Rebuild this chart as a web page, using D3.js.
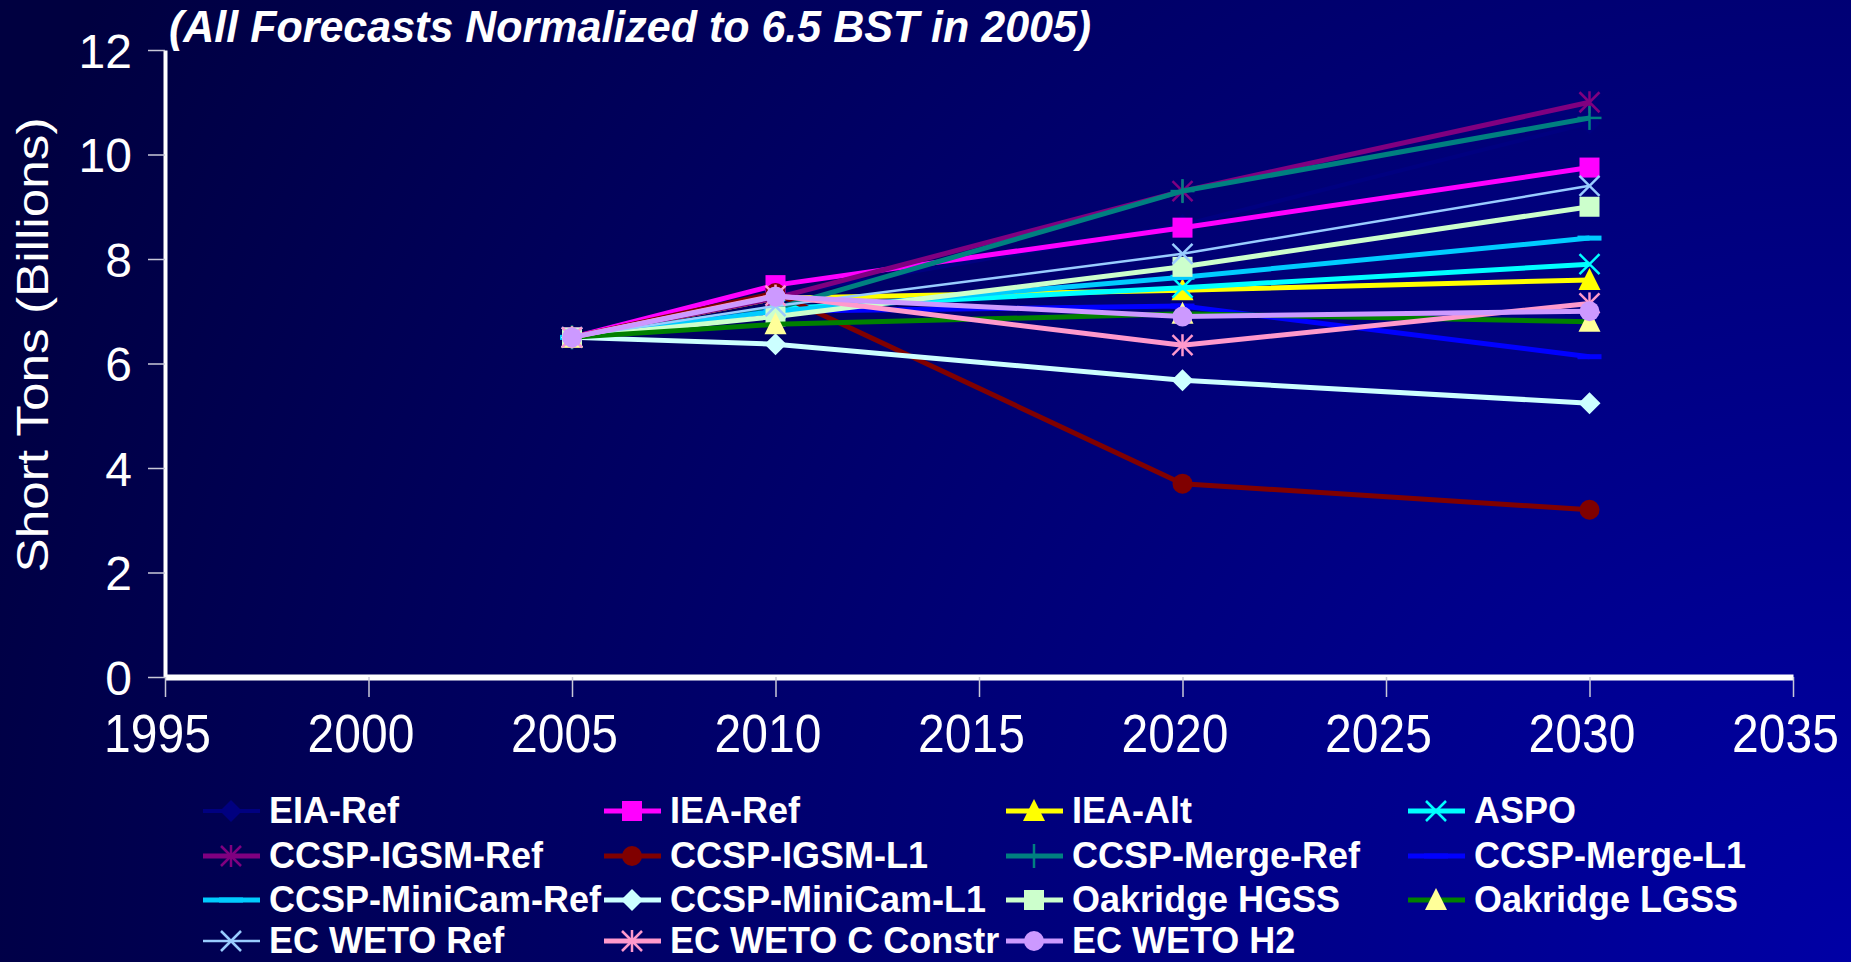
<!DOCTYPE html>
<meta charset="utf-8">
<style>
body { margin: 0; overflow: hidden; background: #000050; }
text { font-family: Arial, "Liberation Sans", sans-serif; fill: #fff; }
.axis .tick line { stroke: #c8c8d8; stroke-width: 1.5px; }
.axis text { font-size: 48px; }
.legend text { font-size: 36px; font-weight: bold; }
</style>
<div id="chart"></div>
<script src="https://cdnjs.cloudflare.com/ajax/libs/d3/7.8.5/d3.min.js"></script>
<script>

// years with a value, axis ticks
var years = [2005, 2010, 2020, 2030];
var xTicks = [1995, 2000, 2005, 2010, 2015, 2020, 2025, 2030, 2035];
var yTicks = [0, 2, 4, 6, 8, 10, 12];

var names = ["EIA-Ref", "IEA-Ref", "IEA-Alt", "ASPO",
             "CCSP-IGSM-Ref", "CCSP-IGSM-L1", "CCSP-Merge-Ref", "CCSP-Merge-L1",
             "CCSP-MiniCam-Ref", "CCSP-MiniCam-L1", "Oakridge HGSS", "Oakridge LGSS",
             "EC WETO Ref", "EC WETO C Constr", "EC WETO H2"];

// billions of short tons
var eiaRef        = [6.5, 7.3, 8.65, 10.6];
var ieaRef        = [6.5, 7.5, 8.6, 9.75];
var ieaAlt        = [6.5, 7.25, 7.4, 7.6];
var aspo          = [6.5, 7.05, 7.45, 7.9];
var igsmRef       = [6.5, 7.25, 9.3, 11.0];
var igsmL1        = [6.5, 7.35, 3.7, 3.2];
var mergeRef      = [6.5, 7.05, 9.3, 10.7];
var mergeL1       = [6.5, 7.0, 7.1, 6.13];
var miniCamRef    = [6.5, 7.0, 7.65, 8.4];
var miniCamL1     = [6.5, 6.37, 5.68, 5.24];
var oakHGSS       = [6.5, 6.9, 7.85, 9.0];
var oakLGSS       = [6.5, 6.75, 6.95, 6.8];
var wetoRef       = [6.5, 7.1, 8.1, 9.4];
var wetoCConstr   = [6.5, 7.3, 6.35, 7.15];
var wetoH2        = [6.5, 7.28, 6.9, 7.0];

var values = [eiaRef, ieaRef, ieaAlt, aspo, igsmRef, igsmL1, mergeRef, mergeL1,
              miniCamRef, miniCamL1, oakHGSS, oakLGSS, wetoRef, wetoCConstr, wetoH2];

// look of each series: line colour, marker, marker colour, line width
var styles = [
  {c: "#000080", m: "diamond",  mc: "#000080", w: 4},
  {c: "#ff00ff", m: "square",   mc: "#ff00ff", w: 5},
  {c: "#ffff00", m: "triangle", mc: "#ffff00", w: 5},
  {c: "#00ffff", m: "x",        mc: "#00ffff", w: 5},
  {c: "#800080", m: "star",     mc: "#800080", w: 5},
  {c: "#800000", m: "circle",   mc: "#800000", w: 5},
  {c: "#008080", m: "plus",     mc: "#008080", w: 5},
  {c: "#0000ff", m: "dash",     mc: "#0000ff", w: 5},
  {c: "#00ccff", m: "dash",     mc: "#00ccff", w: 5},
  {c: "#ccffff", m: "diamond",  mc: "#ccffff", w: 5},
  {c: "#ccffcc", m: "square",   mc: "#ccffcc", w: 5},
  {c: "#008000", m: "triangle", mc: "#ffff99", w: 5},
  {c: "#99ccff", m: "x",        mc: "#99ccff", w: 2.5},
  {c: "#ff99cc", m: "star",     mc: "#ff99cc", w: 5},
  {c: "#cc99ff", m: "circle",   mc: "#cc99ff", w: 5}
];

var W = 1851, H = 962;

var svg = d3.select("#chart").append("svg")
    .attr("width", W)
    .attr("height", H);

// background: dark navy top-left, brighter blue towards bottom-right
var grad = svg.append("defs").append("radialGradient")
    .attr("id", "bg")
    .attr("gradientUnits", "userSpaceOnUse")
    .attr("cx", W).attr("cy", H).attr("r", 2000);
grad.append("stop").attr("offset", 0).attr("stop-color", "#0000a5");
grad.append("stop").attr("offset", 1).attr("stop-color", "#000040");

svg.append("rect").attr("width", W).attr("height", H).attr("fill", "url(#bg)");

var x = d3.scaleLinear().domain([1995, 2035]).range([165, 1793]);
var y = d3.scaleLinear().domain([0, 12]).range([677, 50]);

// title
svg.append("text")
    .attr("transform", "translate(169,42) scale(1,1.05)")
    .style("font-size", "43px")
    .style("font-weight", "bold")
    .style("font-style", "italic")
    .text("(All Forecasts Normalized to 6.5 BST in 2005)");

// y axis title
svg.append("text")
    .attr("transform", "translate(48,345) rotate(-90)")
    .attr("text-anchor", "middle")
    .attr("textLength", 455)
    .attr("lengthAdjust", "spacingAndGlyphs")
    .style("font-size", "44px")
    .text("Short Tons (Billions)");

var yAxis = svg.append("g")
    .attr("class", "axis")
    .attr("transform", "translate(165,0)")
    .call(d3.axisLeft(y).tickValues(yTicks).tickSize(17).tickSizeOuter(0).tickPadding(16));
yAxis.select(".domain").attr("stroke", "#fff").attr("stroke-width", 4);
yAxis.selectAll(".tick text")
    .attr("fill", "#fff")
    .attr("dy", "0.36em")
    .attr("font-size", 48)
    .attr("font-family", "Arial, 'Liberation Sans', sans-serif");

var xAxis = svg.append("g")
    .attr("class", "axis")
    .attr("transform", "translate(0,677)")
    .call(d3.axisBottom(x).tickValues(xTicks).tickFormat(d3.format("d")).tickSize(20).tickSizeOuter(0));
xAxis.select(".domain").attr("stroke", "#fff").attr("stroke-width", 6);
xAxis.selectAll(".tick text")
    .attr("fill", "#fff")
    .attr("y", 0).attr("dy", 0)
    .attr("transform", "translate(-8,75) scale(1,1.12)")
    .attr("font-size", 48)
    .attr("font-family", "Arial, 'Liberation Sans', sans-serif");

function drawMarker(g, type, col) {
  if (type === "diamond") {
    g.append("path").attr("d", "M0,-11L11,0L0,11L-11,0Z").attr("fill", col);
  } else if (type === "square") {
    g.append("rect").attr("x", -10).attr("y", -10).attr("width", 20).attr("height", 20).attr("fill", col);
  } else if (type === "triangle") {
    g.append("path").attr("d", "M0,-12L11,10L-11,10Z").attr("fill", col);
  } else if (type === "circle") {
    g.append("circle").attr("r", 10).attr("fill", col);
  } else if (type === "dash") {
    g.append("rect").attr("x", -12).attr("y", -2.5).attr("width", 24).attr("height", 5).attr("fill", col);
  } else {
    var segs = [];
    if (type === "x" || type === "star") segs.push([-10, -10, 10, 10], [-10, 10, 10, -10]);
    if (type === "star") segs.push([0, -11, 0, 11]);
    if (type === "plus") segs.push([0, -12, 0, 12], [-12, 0, 12, 0]);
    segs.forEach(function(s) {
      g.append("line")
          .attr("x1", s[0]).attr("y1", s[1]).attr("x2", s[2]).attr("y2", s[3])
          .attr("stroke", col).attr("stroke-width", 2.5);
    });
  }
}

var line = d3.line()
    .x(function(d, i) { return x(years[i]); })
    .y(function(d) { return y(d); });

var plot = svg.append("g");

values.forEach(function(vals, k) {
  var st = styles[k];
  var sg = plot.append("g");
  sg.append("path")
      .attr("d", line(vals))
      .attr("fill", "none")
      .attr("stroke", st.c)
      .attr("stroke-width", st.w)
      .attr("stroke-linejoin", "round");
  vals.forEach(function(v, i) {
    var mg = sg.append("g").attr("transform", "translate(" + x(years[i]) + "," + y(v) + ")");
    drawMarker(mg, st.m, st.mc);
  });
});

// legend, 4 columns
var legend = svg.append("g").attr("class", "legend");
var colX = [203, 604, 1006, 1408];
var rowY = [811, 856, 900, 941];

names.forEach(function(n, k) {
  var st = styles[k];
  var lg = legend.append("g")
      .attr("transform", "translate(" + colX[k % 4] + "," + rowY[Math.floor(k / 4)] + ")");
  lg.append("line")
      .attr("x1", 0).attr("x2", 57).attr("y1", 0).attr("y2", 0)
      .attr("stroke", st.c).attr("stroke-width", st.w);
  drawMarker(lg.append("g").attr("transform", "translate(28,0)"), st.m, st.mc);
  lg.append("text")
      .attr("transform", "translate(66,12) scale(1,1.04)")
      .text(n);
});

</script>
